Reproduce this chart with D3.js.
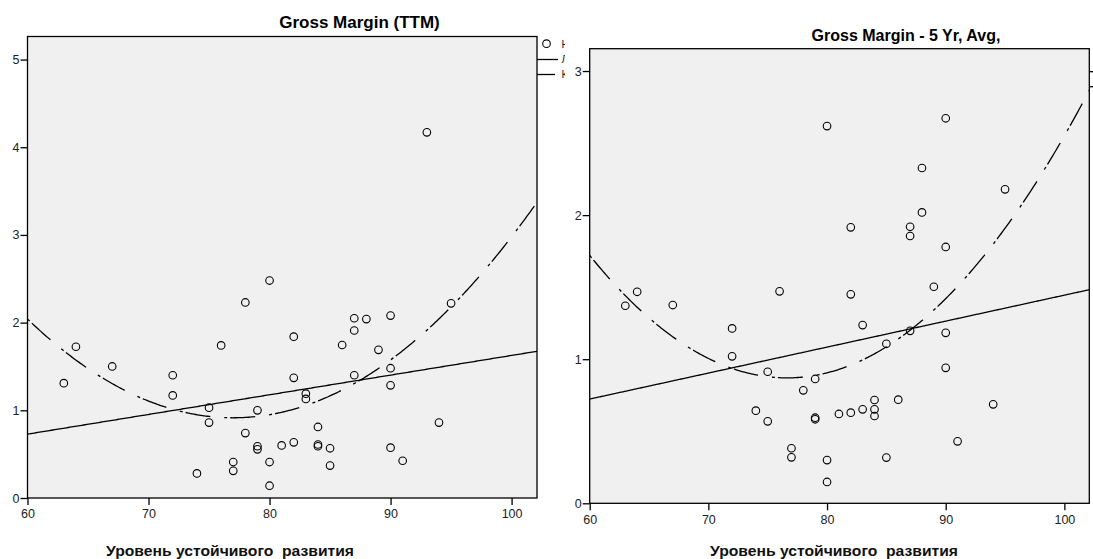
<!DOCTYPE html>
<html>
<head>
<meta charset="utf-8">
<script src="https://cdn.jsdelivr.net/npm/d3@7"></script>
<style>
  html, body { margin: 0; padding: 0; background: #fff; }
  svg { display: block; }
  text { font-family: "Liberation Sans", Arial, sans-serif; }
</style>
</head>
<body>
<svg id="chart" width="1093" height="559"></svg>
<script>
// Sustainability score (x) against gross margin, one point per company
const xTicks = [60, 70, 80, 90, 100];

const ttmX = [63, 64, 67, 72, 72, 74, 75, 75, 76, 77, 77, 78, 78, 79, 79, 79, 80, 80, 80, 81, 82, 82,
              82, 83, 83, 84, 84, 84, 85, 85, 86, 87, 87, 87, 88, 89, 90, 90, 90, 90, 91, 93, 94, 95];
const ttmY = [1.31, 1.725, 1.50, 1.40, 1.17, 0.28, 1.03, 0.86, 1.74, 0.41, 0.31, 2.23, 0.74, 1.00, 0.59,
              0.555, 2.48, 0.41, 0.14, 0.60, 1.84, 1.37, 0.635, 1.19, 1.13, 0.81, 0.61, 0.59, 0.567, 0.37,
              1.745, 2.05, 1.91, 1.40, 2.04, 1.69, 2.08, 1.48, 1.285, 0.574, 0.425, 4.17, 0.86, 2.22];
const ttmYTicks = [0, 1, 2, 3, 4, 5];

const avgX = [63, 64, 67, 72, 72, 74, 75, 75, 76, 77, 77, 78, 79, 79, 79, 80, 80, 80, 81, 82, 82, 82,
              83, 83, 84, 84, 84, 85, 85, 86, 87, 87, 87, 88, 88, 89, 90, 90, 90, 90, 91, 94, 95];
const avgY = [1.371, 1.468, 1.376, 1.214, 1.020, 0.643, 0.913, 0.569, 1.471, 0.382, 0.319, 0.784, 0.863,
              0.594, 0.583, 2.618, 0.300, 0.148, 0.620, 1.915, 1.45, 0.629, 1.237, 0.652, 0.717, 0.652,
              0.606, 1.107, 0.317, 0.719, 1.919, 1.855, 1.197, 2.327, 2.019, 1.503, 2.672, 1.779, 1.183,
              0.940, 0.430, 0.687, 2.179];
const avgYTicks = [0, 1, 2, 3];

const titles = ["Gross Margin (TTM)", "Gross Margin - 5 Yr, Avg,"];
const xLabel = "Уровень устойчивого  развития";
const legendLabels = ["Наблюдаемые", "Линейный", "Квадратичный"];

// Least-squares polynomial fit (degree 1 or 2), centred on mean x
function polyFit(xs, ys, deg) {
  const mx = d3.mean(xs);
  const n = deg + 1;
  const A = Array.from({length: n}, () => new Array(n + 1).fill(0));
  xs.forEach((x, k) => {
    const c = x - mx;
    const pw = Array.from({length: 2 * n}, (_, i) => Math.pow(c, i));
    for (let i = 0; i < n; i++) {
      for (let j = 0; j < n; j++) A[i][j] += pw[i + j];
      A[i][n] += pw[i] * ys[k];
    }
  });
  for (let i = 0; i < n; i++) {
    let p = i;
    for (let r = i + 1; r < n; r++) if (Math.abs(A[r][i]) > Math.abs(A[p][i])) p = r;
    [A[i], A[p]] = [A[p], A[i]];
    for (let r = 0; r < n; r++) {
      if (r === i) continue;
      const f = A[r][i] / A[i][i];
      for (let c = i; c <= n; c++) A[r][c] -= f * A[i][c];
    }
  }
  const coef = A.map((row, i) => row[n] / row[i]);
  return x => coef.reduce((s, b, i) => s + b * Math.pow(x - mx, i), 0);
}

const svg = d3.select("#chart");
const dashQuad = "3,3,25,14";

const panels = [
  { xs: ttmX, ys: ttmY, yTicks: ttmYTicks, xr: [27.5, 537], yr: [498, 36.5], xMax: 102.1, yMax: 5.263,
    title: titles[0], tx: 359.5, ty: 28, tsize: 17, lx: 230, bgX: 0, bgW: 565, legendText: true },
  { xs: avgX, ys: avgY, yTicks: avgYTicks, xr: [589.7, 1089.3], yr: [503.3, 48.7], xMax: 102.1, yMax: 3.155,
    title: titles[1], tx: 906, ty: 40.5, tsize: 16, lx: 834, bgX: 565, bgW: 528, legendText: false }
];

panels.forEach((p, idx) => {
  const g = svg.append("g");
  g.append("rect").attr("x", p.bgX).attr("y", 0).attr("width", p.bgW).attr("height", 559).attr("fill", "#fff");

  const x = d3.scaleLinear().domain([60, p.xMax]).range(p.xr);
  const y = d3.scaleLinear().domain([0, p.yMax]).range(p.yr);
  const [x0, x1] = p.xr, [yb, yt] = p.yr;

  const clipId = "clip" + idx;
  g.append("clipPath").attr("id", clipId)
    .append("rect").attr("x", x0).attr("y", yt).attr("width", x1 - x0).attr("height", yb - yt);
  const panelClip = "pclip" + idx;
  g.append("clipPath").attr("id", panelClip)
    .append("rect").attr("x", p.bgX).attr("y", 0).attr("width", p.bgW).attr("height", 559);

  g.append("rect").attr("x", x0).attr("y", yt).attr("width", x1 - x0).attr("height", yb - yt)
    .attr("fill", "#f0f0f0");

  // Axes
  const yAxis = d3.axisLeft(y).tickValues(p.yTicks).tickFormat(d3.format("d")).tickSize(7).tickPadding(1);
  const xAxis = d3.axisBottom(x).tickValues(xTicks).tickFormat(d3.format("d")).tickSize(7).tickPadding(4.4);
  const ya = g.append("g").attr("transform", `translate(${x0},0)`).call(yAxis);
  const xa = g.append("g").attr("transform", `translate(0,${yb})`).call(xAxis);
  [ya, xa].forEach(a => {
    a.select(".domain").remove();
    a.selectAll("line").attr("stroke", "#000").attr("stroke-width", 1.3);
    a.selectAll("text").attr("font-size", 12.5).attr("fill", "#222")
      .attr("font-family", "'Liberation Sans', Arial, sans-serif");
  });

  // Fit curves
  const lin = polyFit(p.xs, p.ys, 1);
  const quad = polyFit(p.xs, p.ys, 2);
  const grid = d3.range(0, 301).map(i => 60 + (p.xMax - 60) * i / 300);
  const line = f => d3.line().x(d => x(d)).y(d => y(f(d)))(grid);
  const fits = g.append("g").attr("clip-path", `url(#${clipId})`);
  fits.append("path").attr("d", line(lin)).attr("fill", "none").attr("stroke", "#000").attr("stroke-width", 1.3);
  fits.append("path").attr("d", line(quad)).attr("fill", "none").attr("stroke", "#000")
    .attr("stroke-width", 1.3).attr("stroke-dasharray", dashQuad);

  // Observed points
  g.append("g").selectAll("circle").data(p.xs.map((v, i) => [v, p.ys[i]])).join("circle")
    .attr("cx", d => x(d[0])).attr("cy", d => y(d[1])).attr("r", 3.8)
    .attr("fill", "none").attr("stroke", "#000").attr("stroke-width", 1.1);

  // Frame
  g.append("rect").attr("x", x0).attr("y", yt).attr("width", x1 - x0).attr("height", yb - yt)
    .attr("fill", "none").attr("stroke", "#000").attr("stroke-width", 1.3);

  // Legend, to the right of the frame, clipped to the panel's own area
  const lg = g.append("g").attr("clip-path", `url(#${panelClip})`);
  lg.append("circle").attr("cx", x1 + 9.5).attr("cy", yt + 7.2).attr("r", 3.8)
    .attr("fill", "none").attr("stroke", "#000").attr("stroke-width", 1.1);
  lg.append("line").attr("x1", x1).attr("x2", x1 + 21).attr("y1", yt + 23).attr("y2", yt + 23)
    .attr("stroke", "#000").attr("stroke-width", 1.3);
  lg.append("line").attr("x1", x1).attr("x2", x1 + 21).attr("y1", yt + 38).attr("y2", yt + 38)
    .attr("stroke", "#000").attr("stroke-width", 1.3).attr("stroke-dasharray", "18,3,3,3");
  if (p.legendText) {
    legendLabels.forEach((t, i) => {
      lg.append("text").attr("x", x1 + 24.5).attr("y", yt + 7.5 + i * 15.2).attr("dy", "0.35em")
        .attr("font-size", 10.5).attr("fill", "#222").text(t);
    });
  }

  // Title
  g.append("text").attr("x", p.tx).attr("y", p.ty).attr("text-anchor", "middle")
    .attr("font-size", p.tsize).attr("font-weight", "bold").attr("fill", "#000").text(p.title);

  // X axis label
  g.append("text").attr("x", p.lx).attr("y", 556).attr("text-anchor", "middle")
    .attr("font-family", "'DejaVu Sans', sans-serif").attr("font-weight", "bold").attr("font-size", 14)
    .attr("textLength", 248).attr("lengthAdjust", "spacingAndGlyphs")
    .style("white-space", "pre").attr("fill", "#111").text(xLabel);
});
</script>
</body>
</html>
